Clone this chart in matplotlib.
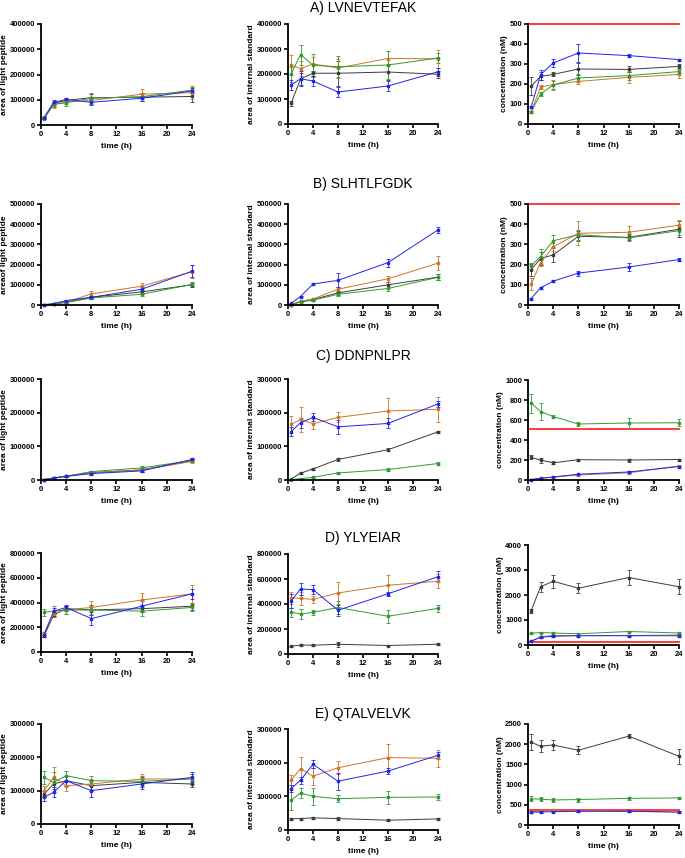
import numpy as np
from matplotlib import pyplot as plt

plt.rcParams['font.family'] = ['Liberation Sans', 'DejaVu Sans']

W, H = 685, 858
hours = [0.5, 2, 4, 8, 16, 24]
colors = ['#3c3c3c', '#cf7424', '#2f9a32', '#1f24f2']  # black, orange, green, blue

titles = ['A) LVNEVTEFAK', 'B) SLHTLFGDK', 'C) DDNPNLPR', 'D) YLYEIAR', 'E) QTALVELVK']

# each panel: rows = black, orange, green, blue
A_light = [[27000, 85000, 98000, 108000, 110000, 113000],
           [30000, 80000, 92000, 97000, 122000, 128000],
           [25000, 82000, 88000, 106000, 112000, 138000],
           [29000, 90000, 101000, 90000, 106000, 135000]]
A_light_err = [[3000, 8000, 5000, 15000, 15000, 20000],
               [5000, 12000, 10000, 15000, 20000, 25000],
               [3000, 10000, 12000, 22000, 15000, 12000],
               [3000, 8000, 5000, 12000, 10000, 10000]]
A_is = [[83000, 180000, 203000, 203000, 208000, 199000],
        [236000, 222000, 240000, 224000, 262000, 261000],
        [200000, 278000, 235000, 229000, 236000, 264000],
        [156000, 181000, 172000, 128000, 152000, 209000]]
A_is_err = [[10000, 25000, 10000, 50000, 30000, 15000],
            [40000, 30000, 30000, 35000, 30000, 35000],
            [30000, 40000, 45000, 45000, 55000, 20000],
            [20000, 30000, 20000, 20000, 20000, 15000]]
A_conc = [[188, 238, 248, 275, 273, 288],
          [60, 185, 197, 213, 233, 248],
          [60, 150, 195, 230, 242, 262],
          [83, 247, 305, 355, 342, 322]]
A_conc_err = [[45, 20, 10, 30, 15, 10],
              [5, 8, 25, 15, 30, 20],
              [5, 10, 20, 20, 20, 15],
              [5, 25, 20, 45, 8, 5]]

B_light = [[0, 5000, 15000, 38000, 65000, 100000],
           [0, 5000, 15000, 55000, 93000, 165000],
           [0, 4000, 12000, 35000, 53000, 102000],
           [2000, 7000, 22000, 38000, 78000, 167000]]
B_light_err = [[1000, 2000, 3000, 8000, 10000, 10000],
               [1000, 2000, 5000, 12000, 18000, 33000],
               [1000, 2000, 3000, 5000, 8000, 10000],
               [1000, 2000, 3000, 8000, 10000, 30000]]
B_is = [[2000, 17000, 27000, 60000, 100000, 138000],
        [2000, 18000, 30000, 78000, 130000, 207000],
        [1000, 15000, 24000, 53000, 82000, 137000],
        [8000, 42000, 104000, 122000, 210000, 372000]]
B_is_err = [[1000, 3000, 5000, 10000, 15000, 15000],
            [1000, 3000, 5000, 12000, 15000, 35000],
            [1000, 2000, 5000, 8000, 15000, 15000],
            [2000, 3000, 5000, 35000, 20000, 15000]]
B_conc = [[175, 230, 248, 340, 335, 375],
          [103, 210, 288, 355, 360, 395],
          [195, 240, 318, 348, 332, 368],
          [32, 85, 118, 158, 188, 225]]
B_conc_err = [[30, 30, 35, 25, 15, 40],
              [30, 15, 20, 60, 30, 25],
              [15, 35, 30, 25, 15, 20],
              [5, 5, 5, 12, 20, 8]]

C_light = [[1000, 6000, 11000, 22000, 30000, 58000],
           [1000, 6000, 11000, 21000, 30000, 55000],
           [1000, 6000, 11000, 25000, 36000, 58000],
           [1000, 6000, 11000, 19000, 27000, 61000]]
C_light_err = [[500, 1000, 1500, 3000, 5000, 5000],
               [500, 1000, 1500, 3000, 5000, 5000],
               [500, 1000, 1500, 3000, 6000, 5000],
               [500, 1000, 1500, 3000, 4000, 5000]]
C_is = [[3000, 20000, 33000, 61000, 90000, 143000],
        [165000, 180000, 167000, 186000, 205000, 210000],
        [1000, 4000, 8000, 21000, 31000, 49000],
        [144000, 170000, 186000, 158000, 168000, 226000]]
C_is_err = [[1000, 3000, 3000, 5000, 5000, 3000],
            [25000, 38000, 15000, 15000, 40000, 37000],
            [1000, 2000, 2000, 3000, 5000, 5000],
            [12000, 15000, 12000, 20000, 15000, 10000]]
C_conc = [[228, 198, 172, 203, 200, 205],
          [3, 15, 28, 50, 72, 140],
          [770, 685, 635, 560, 570, 572],
          [5, 18, 30, 58, 80, 135]]
C_conc_err = [[20, 25, 15, 10, 15, 10],
              [2, 3, 3, 8, 10, 15],
              [95, 85, 15, 20, 50, 35],
              [2, 3, 3, 5, 10, 10]]

D_light = [[130000, 300000, 350000, 340000, 350000, 370000],
           [150000, 310000, 340000, 360000, 420000, 470000],
           [320000, 330000, 340000, 340000, 330000, 360000],
           [140000, 330000, 360000, 270000, 370000, 470000]]
D_light_err = [[10000, 20000, 20000, 40000, 30000, 30000],
               [15000, 30000, 30000, 50000, 60000, 70000],
               [30000, 40000, 30000, 40000, 40000, 30000],
               [15000, 25000, 20000, 50000, 40000, 40000]]
D_is = [[62000, 72000, 70000, 78000, 68000, 78000],
        [450000, 445000, 437000, 488000, 550000, 582000],
        [335000, 320000, 333000, 372000, 302000, 365000],
        [425000, 520000, 515000, 350000, 482000, 618000]]
D_is_err = [[5000, 10000, 8000, 20000, 5000, 8000],
            [50000, 50000, 25000, 85000, 85000, 55000],
            [35000, 40000, 20000, 50000, 50000, 30000],
            [55000, 45000, 35000, 45000, 15000, 45000]]
D_conc = [[1380, 2330, 2550, 2270, 2700, 2330],
          [150, 330, 380, 380, 380, 400],
          [470, 500, 480, 450, 540, 480],
          [150, 310, 350, 370, 370, 370]]
D_conc_err = [[80, 200, 250, 200, 300, 300],
              [20, 30, 30, 30, 30, 30],
              [20, 30, 30, 30, 30, 30],
              [20, 30, 30, 30, 30, 30]]

E_light = [[90000, 120000, 130000, 115000, 125000, 120000],
           [100000, 140000, 115000, 120000, 135000, 135000],
           [140000, 125000, 145000, 130000, 128000, 135000],
           [80000, 95000, 130000, 100000, 120000, 140000]]
E_light_err = [[10000, 15000, 15000, 15000, 15000, 10000],
               [15000, 30000, 15000, 15000, 15000, 15000],
               [20000, 30000, 15000, 15000, 15000, 15000],
               [10000, 15000, 15000, 20000, 15000, 15000]]
E_is = [[33000, 34000, 36000, 34000, 29000, 33000],
        [148000, 182000, 160000, 185000, 215000, 213000],
        [88000, 110000, 100000, 93000, 97000, 98000],
        [123000, 148000, 195000, 145000, 175000, 222000]]
E_is_err = [[4000, 3000, 3000, 5000, 3000, 3000],
            [15000, 35000, 25000, 20000, 40000, 25000],
            [30000, 15000, 25000, 10000, 20000, 10000],
            [10000, 10000, 12000, 25000, 10000, 10000]]
E_conc = [[2050, 1950, 1980, 1850, 2200, 1700],
          [330, 340, 360, 350, 340, 320],
          [650, 640, 620, 630, 660, 670],
          [320, 320, 330, 340, 340, 320]]
E_conc_err = [[200, 150, 120, 100, 50, 180],
              [30, 30, 30, 30, 30, 20],
              [60, 50, 40, 50, 30, 30],
              [20, 20, 20, 20, 20, 20]]

# red reference line in the concentration panels
ref_conc = [500, 500, 515, 120, 360]

light = [A_light, B_light, C_light, D_light, E_light]
light_err = [A_light_err, B_light_err, C_light_err, D_light_err, E_light_err]
istd = [A_is, B_is, C_is, D_is, E_is]
istd_err = [A_is_err, B_is_err, C_is_err, D_is_err, E_is_err]
conc = [A_conc, B_conc, C_conc, D_conc, E_conc]
conc_err = [A_conc_err, B_conc_err, C_conc_err, D_conc_err, E_conc_err]

light_ylim = [(400000, 100000), (500000, 100000), (300000, 100000), (800000, 200000), (300000, 100000)]
istd_ylim = [(400000, 100000), (500000, 100000), (300000, 100000), (800000, 200000), (300000, 100000)]
conc_ylim = [(500, 100), (500, 100), (1000, 200), (4000, 1000), (2500, 500)]

light_label = ['area of light peptide', 'areaof light peptide', 'area of light peptide',
               'area of light peptide', 'area of light peptide']

# axes boxes in pixels: (left, top, right, bottom)
col_x = [(41, 192), (288, 438), (528, 679)]
row_y = [[(24, 125), (24, 124), (24, 124)],
         [(204, 305), (204, 305), (204, 305)],
         [(379, 480), (379, 480), (380, 480)],
         [(553, 652), (554, 654), (545, 645)],
         [(724, 824), (729, 830), (724, 825)]]
title_y = [8, 184, 356, 538, 714]

fig = plt.figure(figsize=(W / 100, H / 100), dpi=100)


def make_ax(col, row):
    x0, x1 = col_x[col]
    y0, y1 = row_y[row][col]
    return fig.add_axes([x0 / W, 1 - y1 / H, (x1 - x0) / W, (y1 - y0) / H])


def style(ax, ymax, ystep, ylabel):
    ax.set_xlim(0, 24)
    ax.set_ylim(0, ymax)
    ax.set_xticks(np.arange(0, 25, 4))
    ax.set_yticks(np.arange(0, ymax + 1, ystep))
    for s in ['top', 'right']:
        ax.spines[s].set_visible(False)
    for s in ['left', 'bottom']:
        ax.spines[s].set_linewidth(1.3)
    ax.tick_params(length=3, width=1.2, labelsize=5.5, pad=1.2)
    for lab in ax.get_xticklabels() + ax.get_yticklabels():
        lab.set_fontweight('bold')
    ax.set_xlabel('time (h)', fontsize=6, fontweight='bold', labelpad=4)
    ax.set_ylabel(ylabel, fontsize=6, fontweight='bold', labelpad=1)


def draw(ax, series, errs):
    for vals, err, c in zip(series, errs, colors):
        ax.errorbar(hours, vals, yerr=err, color=c, lw=0.7, marker='s', ms=2,
                    elinewidth=0.6, capsize=1.6, capthick=0.6, clip_on=False)


for r in range(5):
    ax = make_ax(0, r)
    draw(ax, light[r], light_err[r])
    style(ax, light_ylim[r][0], light_ylim[r][1], light_label[r])

    ax = make_ax(1, r)
    draw(ax, istd[r], istd_err[r])
    style(ax, istd_ylim[r][0], istd_ylim[r][1], 'area of internal standard')

    ax = make_ax(2, r)
    ax.plot([0, 24], [ref_conc[r], ref_conc[r]], color='#ff2a2a', lw=1.3, clip_on=False)
    draw(ax, conc[r], conc_err[r])
    style(ax, conc_ylim[r][0], conc_ylim[r][1], 'concentration (nM)')

    fig.text(363 / W, 1 - title_y[r] / H, titles[r], ha='center', va='center', fontsize=10)

plt.savefig('out.png', dpi=100)
